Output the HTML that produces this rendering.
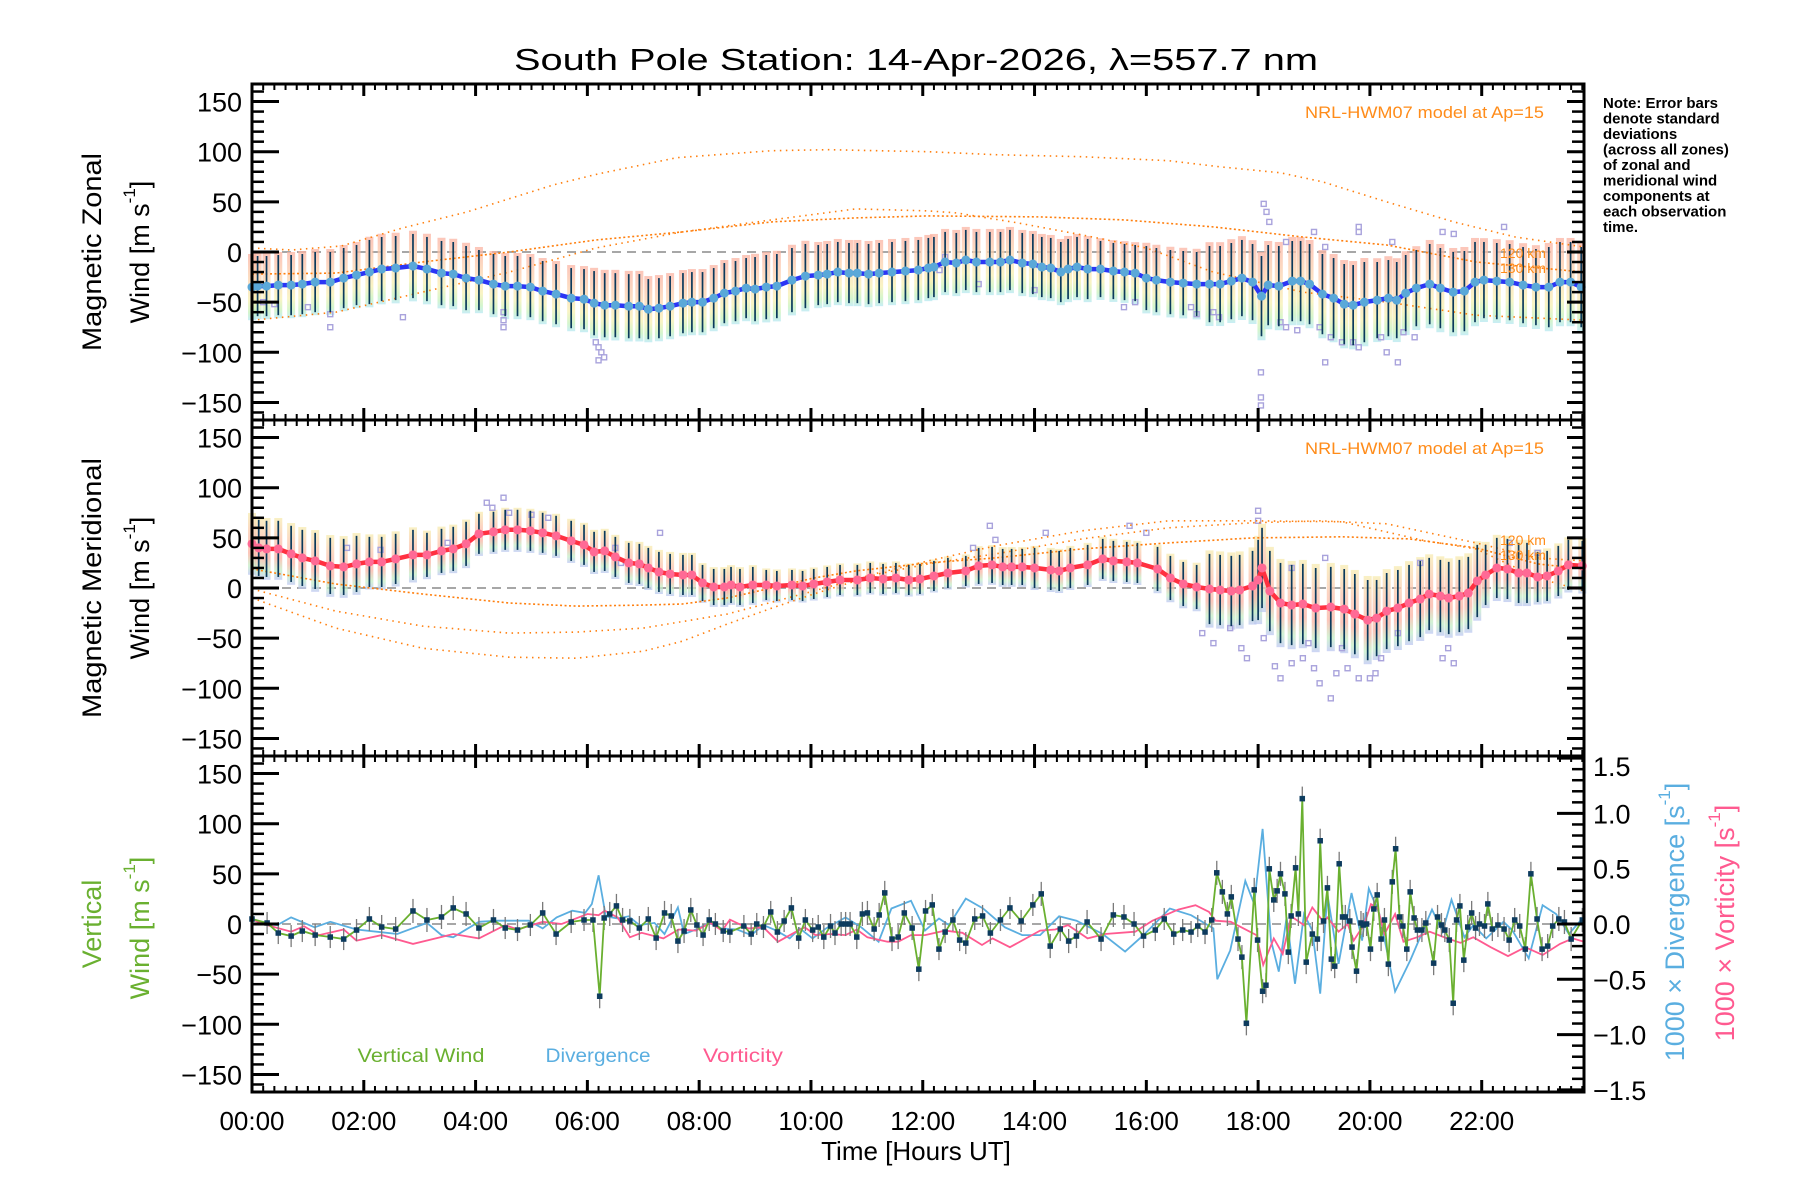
<!DOCTYPE html>
<html><head><meta charset="utf-8"><title>South Pole Station winds</title>
<style>
html,body{margin:0;padding:0;background:#fff;}
svg{display:block;font-family:"Liberation Sans",sans-serif;}
</style></head>
<body>
<svg id="chart" width="1800" height="1200" viewBox="0 0 1800 1200" xmlns="http://www.w3.org/2000/svg">
<defs>
<linearGradient id="band1" x1="0" y1="0" x2="0" y2="1">
<stop offset="0" stop-color="#fbb3a3"/><stop offset="0.45" stop-color="#fbd9b0"/><stop offset="0.7" stop-color="#f7f0b0"/><stop offset="0.88" stop-color="#c6f2bc"/><stop offset="1" stop-color="#b6e8f2"/>
</linearGradient>
<linearGradient id="band2" x1="0" y1="0" x2="0" y2="1">
<stop offset="0" stop-color="#f7ecb0"/><stop offset="0.35" stop-color="#fbc4ae"/><stop offset="0.65" stop-color="#fbb3a3"/><stop offset="0.85" stop-color="#c4eec6"/><stop offset="1" stop-color="#bcc6f2"/>
</linearGradient>
</defs>
<rect x="0" y="0" width="1800" height="1200" fill="#fff"/>
<text x="916" y="70" font-size="31" text-anchor="middle" textLength="804" lengthAdjust="spacingAndGlyphs">South Pole Station: 14-Apr-2026, λ=557.7 nm</text>
<g id="layer-data"></g>
<g id="layer-axes"></g>

<text transform="translate(92,252) rotate(-90)" font-size="27" text-anchor="middle" dominant-baseline="central" textLength="198" lengthAdjust="spacingAndGlyphs">Magnetic Zonal</text>
<text transform="translate(140,252) rotate(-90)" font-size="27" text-anchor="middle" dominant-baseline="central">Wind [m s<tspan font-size="17" dy="-11">-1</tspan><tspan dy="11">]</tspan></text>
<text transform="translate(92,588) rotate(-90)" font-size="27" text-anchor="middle" dominant-baseline="central" textLength="260" lengthAdjust="spacingAndGlyphs">Magnetic Meridional</text>
<text transform="translate(140,588) rotate(-90)" font-size="27" text-anchor="middle" dominant-baseline="central">Wind [m s<tspan font-size="17" dy="-11">-1</tspan><tspan dy="11">]</tspan></text>
<text transform="translate(92,924) rotate(-90)" font-size="27" fill="#6ab030" text-anchor="middle" dominant-baseline="central">Vertical</text>
<text transform="translate(140,928) rotate(-90)" font-size="27" fill="#6ab030" text-anchor="middle" dominant-baseline="central">Wind [m s<tspan font-size="17" dy="-11">-1</tspan><tspan dy="11">]</tspan></text>
<text transform="translate(1675,922) rotate(-90)" font-size="27" fill="#5aaee0" text-anchor="middle" dominant-baseline="central">1000 × Divergence [s<tspan font-size="17" dy="-11">-1</tspan><tspan dy="11">]</tspan></text>
<text transform="translate(1725,923) rotate(-90)" font-size="27" fill="#ff5a90" text-anchor="middle" dominant-baseline="central">1000 × Vorticity [s<tspan font-size="17" dy="-11">-1</tspan><tspan dy="11">]</tspan></text>

<text x="916" y="1160" font-size="26" text-anchor="middle">Time [Hours UT]</text>

<text x="1544" y="118" font-size="17" fill="#ff8c1a" text-anchor="end" textLength="239" lengthAdjust="spacingAndGlyphs">NRL-HWM07 model at Ap=15</text>
<text x="1544" y="454" font-size="17" fill="#ff8c1a" text-anchor="end" textLength="239" lengthAdjust="spacingAndGlyphs">NRL-HWM07 model at Ap=15</text>
<text x="1500" y="258" font-size="14" fill="#ff8c1a">120 km</text>
<text x="1500" y="273" font-size="14" fill="#ff8c1a">130 km</text>
<text x="1500" y="545" font-size="14" fill="#ff8c1a">120 km</text>
<text x="1500" y="560" font-size="14" fill="#ff8c1a">130 km</text>

<g font-size="15" font-weight="bold">
<text x="1603" y="108">Note: Error bars</text>
<text x="1603" y="123.5">denote standard</text>
<text x="1603" y="139">deviations</text>
<text x="1603" y="154.5">(across all zones)</text>
<text x="1603" y="170">of zonal and</text>
<text x="1603" y="185.5">meridional wind</text>
<text x="1603" y="201">components at</text>
<text x="1603" y="216.5">each observation</text>
<text x="1603" y="232">time.</text>
</g>

<text x="421" y="1062" font-size="19" fill="#6ab030" text-anchor="middle" textLength="127" lengthAdjust="spacingAndGlyphs">Vertical Wind</text>
<text x="598" y="1062" font-size="19" fill="#5aaee0" text-anchor="middle" textLength="105" lengthAdjust="spacingAndGlyphs">Divergence</text>
<text x="743" y="1062" font-size="19" fill="#ff5a90" text-anchor="middle" textLength="80" lengthAdjust="spacingAndGlyphs">Vorticity</text>
</svg>

<script>
// ---------------- data ----------------
var xTickLabels = ["00:00","02:00","04:00","06:00","08:00","10:00","12:00","14:00","16:00","18:00","20:00","22:00"];
var xTickHours = [0,2,4,6,8,10,12,14,16,18,20,22];
var yTickValues = [150,100,50,0,-50,-100,-150];
var yTickLabels = ["150","100","50","0","\u221250","\u2212100","\u2212150"];
var rTickValues = [1.5,1.0,0.5,0.0,-0.5,-1.0,-1.5];
var rTickLabels = ["1.5","1.0","0.5","0.0","\u22120.5","\u22121.0","\u22121.5"];

var zonalT = [0,0.1,0.26,0.47,0.7,0.9,1.13,1.4,1.64,1.87, 2.1,2.32,2.57,2.88,3.13,3.39,3.6,3.83,4.06,4.32, 4.53,4.75,4.98,5.2,5.44,5.71,5.94,6.12,6.31,6.5, 6.74,6.93,7.09,7.28,7.48,7.71,7.87,8.06,8.26,8.45, 8.65,8.84,9.0,9.2,9.39,9.66,9.9,10.13,10.29,10.48, 10.68,10.83,11.03,11.22,11.45,11.69,11.92,12.1,12.2,12.4, 12.6,12.77,12.96,13.2,13.39,13.56,13.78,13.97,14.13,14.29, 14.47,14.6,14.76,14.95,15.18,15.41,15.61,15.8,16.0,16.18, 16.43,16.66,16.9,17.13,17.32,17.52,17.71,17.9,18.06,18.18, 18.37,18.61,18.76,18.92,19.15,19.35,19.54,19.7,19.9,20.13, 20.33,20.48,20.64,20.83,21.07,21.26,21.49,21.69,21.88,22.04, 22.27,22.5,22.74,22.97,23.2,23.4,23.59,23.78];
var zonalV = [-35,-34,-34,-33,-33,-32,-30,-30,-26,-23, -20,-17,-16,-14,-17,-21,-22,-26,-28,-32, -34,-34,-35,-39,-42,-46,-47,-51,-53,-53, -54,-54,-57,-56,-54,-51,-50,-50,-46,-41, -39,-36,-37,-35,-34,-28,-24,-23,-22,-20, -21,-21,-22,-21,-20,-19,-18,-16,-15,-10, -11,-8,-10,-10,-10,-8,-11,-12,-15,-16, -20,-17,-15,-17,-17,-19,-20,-21,-26,-28, -30,-31,-32,-32,-32,-29,-26,-30,-44,-33, -34,-29,-29,-32,-42,-46,-52,-53,-50,-48, -46,-48,-41,-36,-32,-36,-40,-39,-30,-28, -29,-30,-33,-35,-35,-30,-30,-35];
var zonalSigmaHourly = [30,30,32,32,30,30,32,30,30,32,30,30,30,30,30,28,32,38,40,40,38,40,38,40];

var meridT = [0,0.12,0.26,0.47,0.7,0.9,1.13,1.4,1.64,1.87, 2.1,2.32,2.57,2.88,3.13,3.39,3.6,3.83,4.06,4.32, 4.53,4.75,4.98,5.2,5.44,5.71,5.94,6.12,6.31,6.5, 6.74,6.93,7.09,7.28,7.48,7.71,7.87,8.06,8.26,8.45, 8.57,8.73,8.96,9.2,9.39,9.66,9.85,10.05,10.29,10.52, 10.83,11.06,11.29,11.52,11.75,11.95,12.2,12.45,12.77,13.0, 13.24,13.43,13.59,13.78,14.0,14.29,14.44,14.64,14.95,15.22, 15.41,15.65,15.84,16.2,16.43,16.66,16.9,17.13,17.32,17.52, 17.67,17.9,18.0,18.07,18.21,18.4,18.6,18.8,19.03,19.3, 19.54,19.73,19.96,20.12,20.3,20.5,20.7,20.9,21.06,21.26, 21.41,21.6,21.76,21.92,22.07,22.27,22.46,22.66,22.81,23.0, 23.17,23.37,23.55,23.8];
var meridV = [44,40,39,39,34,30,27,22,21,24, 26,26,29,33,33,37,39,44,54,56, 58,58,57,55,52,47,43,36,37,31, 25,24,20,16,14,13,13,5,1,1, 3,1,3,3,2,3,2,4,6,8, 8,10,9,10,8,9,12,15,17,22, 23,21,21,21,20,18,17,20,23,29, 27,26,25,19,10,4,1,-1,-2,-3, -2,2,8,20,-3,-15,-17,-16,-20,-19, -21,-26,-32,-30,-23,-20,-15,-11,-6,-8, -10,-8,-5,7,13,20,19,15,15,11, 12,17,23,22];
var meridSigmaHourly = [28,28,25,22,20,20,20,20,18,15,15,15,15,18,20,20,22,35,40,40,38,36,30,25];

var modelZonalAT = [0,0.7,1.6,2.7,3.85,5.4,6.2,7.6,9.3,10.3,12.1,13.3,14.85,16.4,17.3,18.4,19.15,20.3,21.5,22.6,23.83];
var modelZonalAV = [4,2,6,24,40,67,78,94,101,102,100,97,95,91,85,79,70,50,30,15,5];
var modelZonalBT = [0,1.5,3.05,4.6,6.15,7.7,9.3,10.8,12.1,14.1,15.6,17.2,18.8,20.3,21.9,23.83];
var modelZonalBV = [-22,-21,-10,0,12,20,30,34,36,35,32,25,15,7,-10,-20];
var modelZonalCT = [0,1.5,3.05,4.6,6.15,7.7,9.3,10.8,12.1,12.6,13.7,14.85,16.0,17.2,18.8,20.3,21.9,23.83];
var modelZonalCV = [-68,-60,-40,-20,4,20,32,43,41,39,29,17,4,-20,-40,-50,-63,-68];
var modelMeridAT = [0,1.5,3.05,4.6,5.8,7.0,8.5,10.05,11.2,12.1,13.3,14.85,16.4,17.9,19.5,21.0,21.9,23.0,23.83];
var modelMeridAV = [-1,-23,-38,-45,-44,-40,-26,-3,15,27,42,57,67,67,66,47,39,10,-3];
var modelMeridBT = [0,1.5,3.05,4.6,5.8,7.0,7.7,8.5,9.3,10.05,10.8,12.1,13.3,14.85,16.4,17.9,19.5,20.7,21.9,23.0,23.83];
var modelMeridBV = [19,4,-6,-15,-18,-17,-16,-10,0,10,17,25,30,39,45,50,51,49,40,24,19];
var modelMeridCT = [0,1.5,3.05,4.6,5.8,7.0,7.7,8.5,9.3,10.05,11.2,12.1,13.3,14.85,16.4,17.9,19.1,20.3,21.9,23.0,23.83];
var modelMeridCV = [-10,-40,-60,-69,-70,-63,-53,-36,-20,-6,14,24,34,49,60,65,67,64,45,30,27];

var zonalOutT = [6.15,6.2,6.25,6.2,6.3,4.5,4.5,4.5,1.4,1.4,2.7,18.05,18.05,18.05,18.1,18.15,18.2,18.5,19.0,19.2,19.8,19.8,20.4,21.3,21.5,22.4,19.1,19.3,19.5,19.7,19.8,20.2,20.3,20.5,20.6,20.8,18.5,18.4,18.7,17.2,17.3,16.8,16.9,15.8,15.6,19.2,14.0,12.3,12.4,13.0,0.2,0.4,1.0];
var zonalOutV = [-90,-95,-100,-108,-105,-60,-68,-75,-75,-62,-65,-120,-145,-153,48,40,30,10,20,5,25,20,10,20,18,25,-75,-85,-90,-90,-95,-85,-100,-110,-80,-85,-75,-70,-78,-60,-65,-55,-62,-50,-55,-110,-38,-18,-5,-32,-50,-52,-55];
var meridOutT = [4.5,4.3,4.2,4.6,5.0,5.3,1.7,2.3,6.5,6.6,7.3,3.5,12.9,13.2,13.3,14.2,15.7,16.0,18.0,18.0,17.5,17.7,17.8,18.3,18.4,18.6,18.8,19.0,19.1,19.3,19.4,19.6,19.8,20.0,20.1,20.2,21.3,21.4,21.5,17.0,17.2,18.1,18.9,19.5,20.5,22.5,23.0,20.9,19.2,18.6];
var meridOutV = [90,80,85,75,73,70,40,38,40,25,55,45,40,62,48,55,62,55,77,67,-40,-60,-70,-78,-90,-75,-70,-80,-95,-110,-85,-80,-90,-90,-85,-70,-70,-60,-75,-45,-55,-50,-55,-60,-45,45,35,25,30,20];

var vertT = [0,0.27,0.47,0.7,0.9,1.13,1.4,1.64,1.87,2.1, 2.32,2.57,2.88,3.13,3.39,3.6,3.83,4.06,4.32,4.53, 4.75,4.98,5.2,5.44,5.71,5.94,6.1,6.22,6.3,6.4, 6.52,6.63,6.76,6.93,7.09,7.23,7.38,7.5,7.62,7.73, 7.85,7.96,8.07,8.18,8.29,8.43,8.55,8.8,8.93,9.03, 9.15,9.28,9.4,9.52,9.65,9.78,9.9,10.03,10.13,10.23, 10.35,10.43,10.54,10.62,10.7,10.82,10.92,11.01,11.13,11.22, 11.32,11.45,11.56,11.67,11.81,11.93,12.05,12.17,12.29,12.4, 12.54,12.66,12.77,12.93,13.07,13.21,13.39,13.56,13.76,13.97, 14.12,14.28,14.46,14.61,14.75,14.94,15.19,15.41,15.6,15.78, 15.95,16.16,16.32,16.49,16.65,16.8,16.92,17.05,17.17,17.26, 17.36,17.45,17.52,17.64,17.71,17.79,17.93,17.99,18.08,18.14, 18.2,18.28,18.34,18.4,18.48,18.54,18.59,18.67,18.72,18.79, 18.86,18.97,19.06,19.11,19.17,19.24,19.31,19.37,19.45,19.51, 19.56,19.64,19.68,19.76,19.84,19.88,19.94,20.01,20.07,20.13, 20.2,20.26,20.33,20.4,20.46,20.53,20.59,20.66,20.72,20.79, 20.85,20.93,21.0,21.14,21.21,21.28,21.34,21.42,21.49,21.55, 21.61,21.68,21.75,21.82,21.89,21.96,22.05,22.11,22.19,22.29, 22.4,22.49,22.59,22.68,22.78,22.88,22.99,23.08,23.18,23.27, 23.38,23.48,23.6,23.8];
var vertV = [5,1,-9,-12,-7,-11,-13,-15,-6,5, -3,-5,13,4,7,16,10,-4,4,-4, -6,-1,11,-10,2,4,4,-72,6,10, 18,4,3,-4,5,-14,11,8,-17,-7, 14,-1,-11,4,0,-7,-8,-2,-10,0, -3,12,-8,3,16,-14,4,-6,-3,-13, -2,-9,0,0,0,-13,10,11,-5,9, 31,-15,-13,11,-4,-45,13,19,-25,-8, 4,-16,-19,5,8,-9,4,16,3,19, 30,-22,-5,-17,-12,2,-15,9,7,0, -12,-6,5,-10,-6,-8,-2,-8,4,51, 32,10,27,-15,-33,-99,34,-16,-67,-61, 55,24,33,50,30,-28,8,56,10,125, -38,-10,-15,83,3,36,-35,-42,60,7, 7,3,-23,-47,1,-1,0,-25,15,29, -15,4,-40,42,75,7,-2,-25,32,6, -6,-6,1,-39,7,-1,-6,-16,-79,4, 18,-36,-3,11,-4,0,-2,20,-5,-1, -5,-16,4,-2,-25,50,5,-25,-22,-2, 5,2,-15,4];
var vertErrHourly = [11,11,12,12,11,11,12,12,11,11,12,12,11,11,12,12,11,12,12,12,12,12,12,12];

var divT = [0,0.25,0.45,0.7,1.12,1.4,1.87,2.6,3.13,3.39, 3.6,4.06,4.4,4.95,5.2,5.45,5.73,5.96,6.08,6.2, 6.33,6.54,6.74,6.93,7.2,7.38,7.62,7.73,7.94,8.18, 8.4,8.68,8.93,9.15,9.38,9.62,9.8,10.03,10.27,10.62, 10.9,11.21,11.44,11.79,12.04,12.29,12.47,12.77,13.08,13.47, 13.78,14.1,14.44,14.75,15.22,15.62,15.95,16.42,16.8,17.2, 17.27,17.5,17.77,17.93,18.08,18.23,18.37,18.51,18.66,18.82, 18.97,19.11,19.24,19.44,19.67,19.86,19.98,20.17,20.45,20.72, 21.11,21.3,21.46,21.69,21.85,22.08,22.39,22.55,22.84,23.09, 23.33,23.56,23.8];
var divV = [0.05,0,-0.01,0.06,-0.03,0.02,-0.05,-0.09,0.01,-0.1, -0.12,0.02,0.03,0.03,-0.04,0.06,0.12,0.1,0.18,0.44, 0.07,0.05,0.07,-0.01,0.01,-0.09,0.15,-0.09,-0.05,0.01, -0.04,-0.05,-0.1,-0.01,-0.06,-0.13,-0.04,-0.13,-0.04,0.06, -0.03,-0.16,0.14,0.21,-0.06,0.05,-0.01,0.23,0.14,-0.03, -0.1,-0.1,0.07,0.03,-0.09,-0.25,-0.1,0.14,0.08,-0.04, -0.5,-0.24,0.39,0.18,0.86,-0.15,-0.43,0.06,-0.54,0.09, -0.06,-0.63,0.27,-0.36,0.28,-0.15,0.32,0.09,-0.61,-0.33, 0.13,-0.07,0.22,-0.12,-0.01,-0.13,0.02,-0.06,-0.31,0.17, 0.09,-0.09,0.05];
var vortT = [0,0.27,0.7,0.93,1.2,1.64,1.87,2.32,2.88,3.37, 3.6,4.06,4.53,4.75,5.2,5.54,6.0,6.2,6.31,6.54, 6.76,6.97,7.36,7.63,7.94,8.2,8.41,8.55,8.88,9.15, 9.41,9.77,9.89,10.08,10.35,10.62,10.82,11.01,11.37,11.56, 11.79,12.04,12.4,12.71,13.06,13.25,13.56,14.1,14.37,14.6, 14.95,15.26,15.8,16.11,16.57,16.88,17.12,17.24,17.51,17.97, 18.09,18.28,18.44,18.59,18.82,18.97,19.17,19.24,19.44,19.6, 19.71,19.9,20.02,20.14,20.26,20.45,20.6,20.84,21.07,21.38, 21.62,21.85,22.16,22.47,22.78,23.09,23.4,23.63,23.83];
var vortV = [0.04,-0.01,-0.07,-0.02,-0.1,-0.05,-0.15,-0.1,-0.18,-0.12, -0.09,-0.13,-0.01,-0.05,0.02,0,0.09,0.08,0.12,0.06, -0.12,-0.08,-0.13,-0.05,-0.06,0.01,-0.06,0.04,-0.04,-0.03, -0.16,-0.06,-0.03,-0.1,-0.09,-0.1,-0.05,-0.12,-0.16,-0.16, -0.1,-0.1,-0.06,-0.08,-0.19,-0.13,-0.21,-0.06,-0.05,-0.01, -0.13,-0.09,-0.07,0.03,0.13,0.17,0.11,0.03,0.02,-0.1, -0.37,-0.13,-0.27,0.07,-0.01,0.15,0.02,0.06,-0.07,0, -0.15,0,0.18,0.14,-0.09,0.09,-0.16,-0.12,-0.07,-0.13, -0.17,-0.12,-0.21,-0.29,-0.21,-0.28,-0.18,-0.13,-0.16];

// ---------------- geometry / scales ----------------
var NS = "http://www.w3.org/2000/svg";
var X0 = 252, X1 = 1584, HMAX = 23.83;
var PANEL_TOPS = [84, 420, 756], PH = 336, VHALF = 167.5;
function X(h){ return X0 + h * (X1 - X0) / HMAX; }
function Y(p, v){ return PANEL_TOPS[p] + PH/2 - v * (PH/2) / VHALF; }
function YR(d){ return PANEL_TOPS[2] + PH/2 - d * 110.6; }
function mk(tag, attrs, parent){
  var el = document.createElementNS(NS, tag);
  for (var k in attrs) el.setAttribute(k, attrs[k]);
  parent.appendChild(el);
  return el;
}
var dataG = document.getElementById('layer-data');
var axG = document.getElementById('layer-axes');

function pathD(ts, vs, yf){
  var d = "";
  for (var i = 0; i < ts.length; i++) d += (i ? "L" : "M") + X(ts[i]).toFixed(1) + "," + yf(vs[i]).toFixed(1);
  return d;
}

for (var p = 0; p < 3; p++){
  var z = mk('line', {x1:X0, x2:X1, y1:Y(p,0), y2:Y(p,0), stroke:'#8a8a8a', 'stroke-width':1.6, 'stroke-dasharray':'9,6'}, dataG);
  
  
}

function windPanel(p, T, V, sigmaH, outT, outV, grad, lineCol, dotCol, models, nameBase){
  var yf = function(v){ return Y(p, v); };
  for (var i = 0; i < T.length; i++){
    var s = sigmaH[Math.min(23, Math.floor(T[i]))];
    var b = mk('rect', {x:X(T[i]) - 4, y:yf(V[i] + s*1.1), width:8, height:yf(V[i] - s*1.1) - yf(V[i] + s*1.1), fill:'url(#' + grad + ')', opacity:0.75}, dataG);
    
    
  }
  for (var j = 0; j < outT.length; j++){
    var o = mk('rect', {x:X(outT[j]) - 2.5, y:yf(outV[j]) - 2.5, width:5, height:5, fill:'none', stroke:'#a9a3dc', 'stroke-width':1.4}, dataG);
    
    
  }
  for (var m = 0; m < models.length; m++){
    var mc = mk('path', {d:pathD(models[m][0], models[m][1], yf), fill:'none', stroke:'#ff7f0e', 'stroke-width':1.6, 'stroke-dasharray':models[m][2]}, dataG);
    
    
  }
  for (var k = 0; k < T.length; k++){
    var s2 = sigmaH[Math.min(23, Math.floor(T[k]))];
    var e = mk('line', {x1:X(T[k]), x2:X(T[k]), y1:yf(V[k] + s2), y2:yf(V[k] - s2), stroke:'#0b3a5c', 'stroke-width':1.7}, dataG);
    
    
  }
  var ln = mk('path', {d:pathD(T, V, yf), fill:'none', stroke:lineCol, 'stroke-width':4.5, 'stroke-linejoin':'round'}, dataG);
  
  
  for (var q = 0; q < T.length; q++){
    var c = mk('circle', {cx:X(T[q]), cy:yf(V[q]), r:4.5, fill:dotCol}, dataG);
    
    
  }
}
windPanel(0, zonalT, zonalV, zonalSigmaHourly, zonalOutT, zonalOutV, 'band1', '#2b35f5', '#5aa8d8',
  [[modelZonalAT, modelZonalAV, '1.5,4.5'], [modelZonalBT, modelZonalBV, '2,2.5'], [modelZonalCT, modelZonalCV, '1.5,4.5']], 'zonal');
windPanel(1, meridT, meridV, meridSigmaHourly, meridOutT, meridOutV, 'band2', '#ff3040', '#ff6a95',
  [[modelMeridAT, modelMeridAV, '1.5,4.5'], [modelMeridBT, modelMeridBV, '2,2.5'], [modelMeridCT, modelMeridCV, '1.5,4.5']], 'meridional');

var divLine = mk('path', {d:pathD(divT, divV, YR), fill:'none', stroke:'#5aaee0', 'stroke-width':1.8}, dataG);


var vortLine = mk('path', {d:pathD(vortT, vortV, YR), fill:'none', stroke:'#ff5a90', 'stroke-width':1.8}, dataG);


var yv = function(v){ return Y(2, v); };
for (var i = 0; i < vertT.length; i++){
  var er = vertErrHourly[Math.min(23, Math.floor(vertT[i]))];
  var eb = mk('line', {x1:X(vertT[i]), x2:X(vertT[i]), y1:yv(vertV[i] + er), y2:yv(vertV[i] - er), stroke:'#7a7a7a', 'stroke-width':1.3}, dataG);
  
  
}
var vwLine = mk('path', {d:pathD(vertT, vertV, yv), fill:'none', stroke:'#6ab030', 'stroke-width':1.8}, dataG);


for (var i2 = 0; i2 < vertT.length; i2++){
  var mkr = mk('rect', {x:X(vertT[i2]) - 2.5, y:yv(vertV[i2]) - 2.5, width:5, height:5, fill:'#0d3b5e', stroke:'#0d3b5e', 'stroke-width':0.5}, dataG);
  
  
}

// ---------------- axes ----------------
for (var p2 = 0; p2 < 3; p2++){
  var ptop = PANEL_TOPS[p2], pbot = ptop + PH;
  var fr = mk('rect', {x:X0, y:ptop, width:X1 - X0, height:PH, fill:'none', stroke:'#000', 'stroke-width':3}, axG);
  
  
  for (var ti = 0; ti <= 119; ti++){
    var t = ti * 0.2;
    if (t > HMAX) break;
    var major = (ti % 10 === 0);
    var L = major ? 12 : 6;
    var tk1 = mk('line', {x1:X(t), x2:X(t), y1:ptop, y2:ptop + L, stroke:'#000', 'stroke-width':major ? 3 : 2}, axG);
    
    
    var tk2 = mk('line', {x1:X(t), x2:X(t), y1:pbot, y2:pbot - L, stroke:'#000', 'stroke-width':major ? 3 : 2}, axG);
    
    
  }
  for (var v = -160; v <= 160; v += 10){
    var mj = (v % 50 === 0);
    var yy = Y(p2, v);
    var lt = mk('line', {x1:X0, x2:X0 + (mj ? 27 : 12), y1:yy, y2:yy, stroke:'#000', 'stroke-width':mj ? 3 : 2.5}, axG);
    
    
    if (p2 < 2){
      var rt = mk('line', {x1:X1, x2:X1 - (mj ? 17 : 12), y1:yy, y2:yy, stroke:'#000', 'stroke-width':mj ? 3 : 2.5}, axG);
      
      
    }
  }
  for (var k = 0; k < yTickValues.length; k++){
    var tl = mk('text', {x:242, y:Y(p2, yTickValues[k]) + 10, 'font-size':27, 'text-anchor':'end'}, axG);
    tl.textContent = yTickLabels[k];
    
    
  }
}
for (var d = -15; d <= 15; d++){
  var mj2 = (d % 5 === 0);
  var yr = YR(d / 10);
  var rt2 = mk('line', {x1:X1, x2:X1 - (mj2 ? 27 : 12), y1:yr, y2:yr, stroke:'#000', 'stroke-width':mj2 ? 3 : 2.5}, axG);
  
  
}
for (var r = 0; r < rTickValues.length; r++){
  var yy2 = YR(rTickValues[r]);
  if (r === 0) yy2 += 8;
  var rl = mk('text', {x:1593, y:yy2 + 10, 'font-size':27}, axG);
  rl.textContent = rTickLabels[r];
  
  
}
for (var xi = 0; xi < xTickHours.length; xi++){
  var xl = mk('text', {x:X(xTickHours[xi]), y:1130, 'font-size':26, 'text-anchor':'middle'}, axG);
  xl.textContent = xTickLabels[xi];
  
  
}
</script>
</body></html>
